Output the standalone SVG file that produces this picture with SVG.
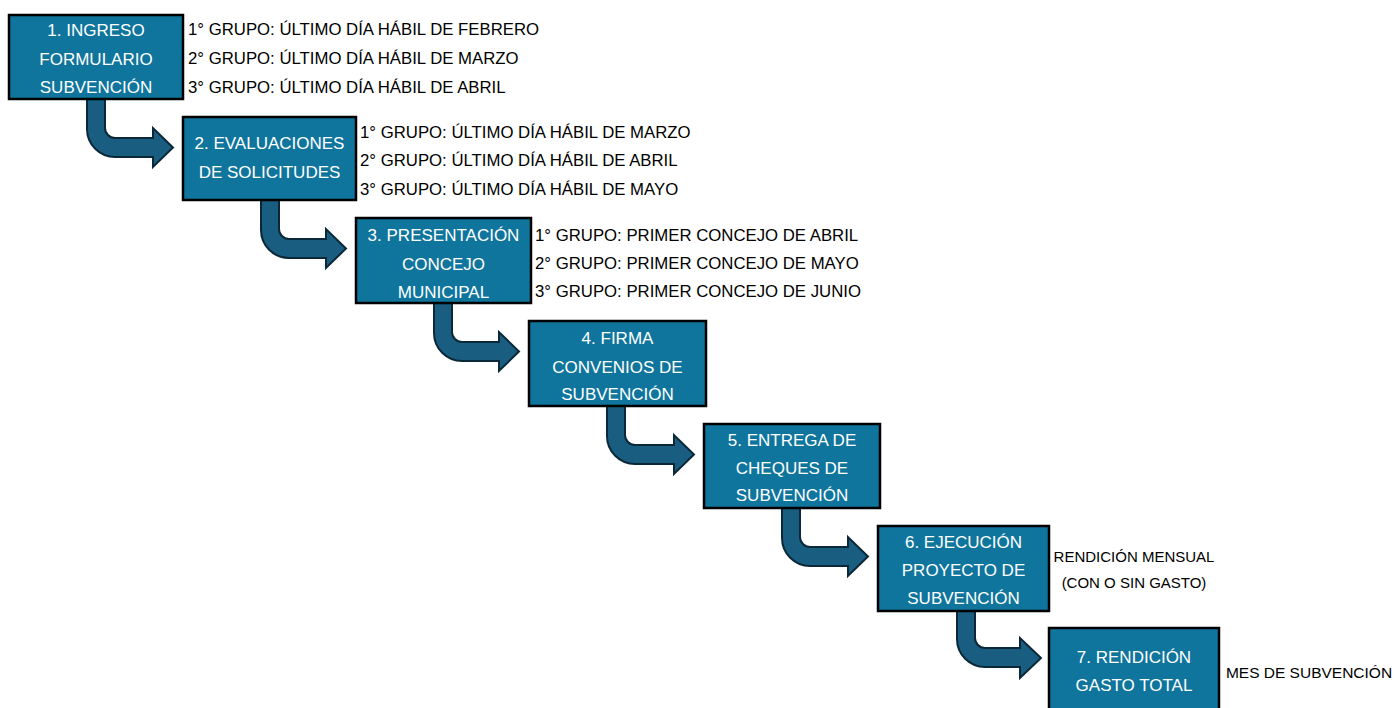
<svg xmlns="http://www.w3.org/2000/svg" width="1396" height="708" viewBox="0 0 1396 708">
<style>
.box{fill:#0f759d;stroke:#000;stroke-width:2.5}
.arrow{fill:#195e80;stroke:#0b2838;stroke-width:2;stroke-linejoin:miter}
.bt{font-family:"Liberation Sans",Arial,sans-serif;font-size:17px;fill:#fff;text-anchor:middle}
.st{font-family:"Liberation Sans",Arial,sans-serif;font-size:16.75px;fill:#000}
.sm{font-family:"Liberation Sans",Arial,sans-serif;font-size:15px;fill:#000;text-anchor:middle}
</style>
<rect width="1396" height="708" fill="#fff"/>
<g id="connectors">
<path class="arrow" d="M87,99 L87,129 A28,28 0 0 0 115,157 L153,157 L153,167 L173,147.5 L153,128 L153,138 L115,138 A10,10 0 0 1 105,128 L105,99 Z"/>
<path class="arrow" d="M261,200 L261,230 A28,28 0 0 0 289,258 L326,258 L326,268 L346,248.5 L326,229 L326,239 L289,239 A10,10 0 0 1 279,229 L279,200 Z"/>
<path class="arrow" d="M434,303 L434,333 A28,28 0 0 0 462,361 L499,361 L499,371 L519,351.5 L499,332 L499,342 L462,342 A10,10 0 0 1 452,332 L452,303 Z"/>
<path class="arrow" d="M607,406 L607,436 A28,28 0 0 0 635,464 L674,464 L674,474 L694,454.5 L674,435 L674,445 L635,445 A10,10 0 0 1 625,435 L625,406 Z"/>
<path class="arrow" d="M782,508 L782,538 A28,28 0 0 0 810,566 L848,566 L848,576 L868,556.5 L848,537 L848,547 L810,547 A10,10 0 0 1 800,537 L800,508 Z"/>
<path class="arrow" d="M957,611 L957,639 A28,28 0 0 0 985,667 L1020,667 L1020,678 L1041,658 L1020,638 L1020,648 L985,648 A10,10 0 0 1 975,638 L975,611 Z"/>
</g>
<g id="node1">
<rect class="box" x="9" y="15" width="174" height="84"/>
<text class="bt" x="96" y="36">1. INGRESO</text>
<text class="bt" x="96" y="65">FORMULARIO</text>
<text class="bt" x="96" y="93">SUBVENCIÓN</text>
<text class="st" x="188" y="34.5">1° GRUPO: ÚLTIMO DÍA HÁBIL DE FEBRERO</text>
<text class="st" x="188" y="63.5">2° GRUPO: ÚLTIMO DÍA HÁBIL DE MARZO</text>
<text class="st" x="188" y="92.5">3° GRUPO: ÚLTIMO DÍA HÁBIL DE ABRIL</text>
</g>
<g id="node2">
<rect class="box" x="183" y="117" width="173" height="83"/>
<text class="bt" x="269.5" y="149">2. EVALUACIONES</text>
<text class="bt" x="269.5" y="178">DE SOLICITUDES</text>
<text class="st" x="360" y="137.5">1° GRUPO: ÚLTIMO DÍA HÁBIL DE MARZO</text>
<text class="st" x="360" y="166">2° GRUPO: ÚLTIMO DÍA HÁBIL DE ABRIL</text>
<text class="st" x="360" y="194.5">3° GRUPO: ÚLTIMO DÍA HÁBIL DE MAYO</text>
</g>
<g id="node3">
<rect class="box" x="356" y="218" width="175" height="85"/>
<text class="bt" x="443.5" y="241">3. PRESENTACIÓN</text>
<text class="bt" x="443.5" y="270">CONCEJO</text>
<text class="bt" x="443.5" y="298">MUNICIPAL</text>
<text class="st" x="535" y="241">1° GRUPO: PRIMER CONCEJO DE ABRIL</text>
<text class="st" x="535" y="268.5">2° GRUPO: PRIMER CONCEJO DE MAYO</text>
<text class="st" x="535" y="296.5">3° GRUPO: PRIMER CONCEJO DE JUNIO</text>
</g>
<g id="node4">
<rect class="box" x="529" y="321" width="177" height="85"/>
<text class="bt" x="617.5" y="344">4. FIRMA</text>
<text class="bt" x="617.5" y="373">CONVENIOS DE</text>
<text class="bt" x="617.5" y="400">SUBVENCIÓN</text>
</g>
<g id="node5">
<rect class="box" x="704" y="424" width="176" height="84"/>
<text class="bt" x="792" y="446">5. ENTREGA DE</text>
<text class="bt" x="792" y="474">CHEQUES DE</text>
<text class="bt" x="792" y="501">SUBVENCIÓN</text>
</g>
<g id="node6">
<rect class="box" x="878" y="526" width="171" height="85"/>
<text class="bt" x="963.5" y="548">6. EJECUCIÓN</text>
<text class="bt" x="963.5" y="576">PROYECTO DE</text>
<text class="bt" x="963.5" y="604">SUBVENCIÓN</text>
<text class="sm" x="1134" y="561.5">RENDICIÓN MENSUAL</text>
<text class="sm" x="1134" y="587.5">(CON O SIN GASTO)</text>
</g>
<g id="node7">
<rect class="box" x="1049" y="628" width="170" height="84"/>
<text class="bt" x="1134" y="663">7. RENDICIÓN</text>
<text class="bt" x="1134" y="691">GASTO TOTAL</text>
<text class="sm" x="1309" y="677.5" style="font-size:15.5px">MES DE SUBVENCIÓN</text>
</g>
</svg>
